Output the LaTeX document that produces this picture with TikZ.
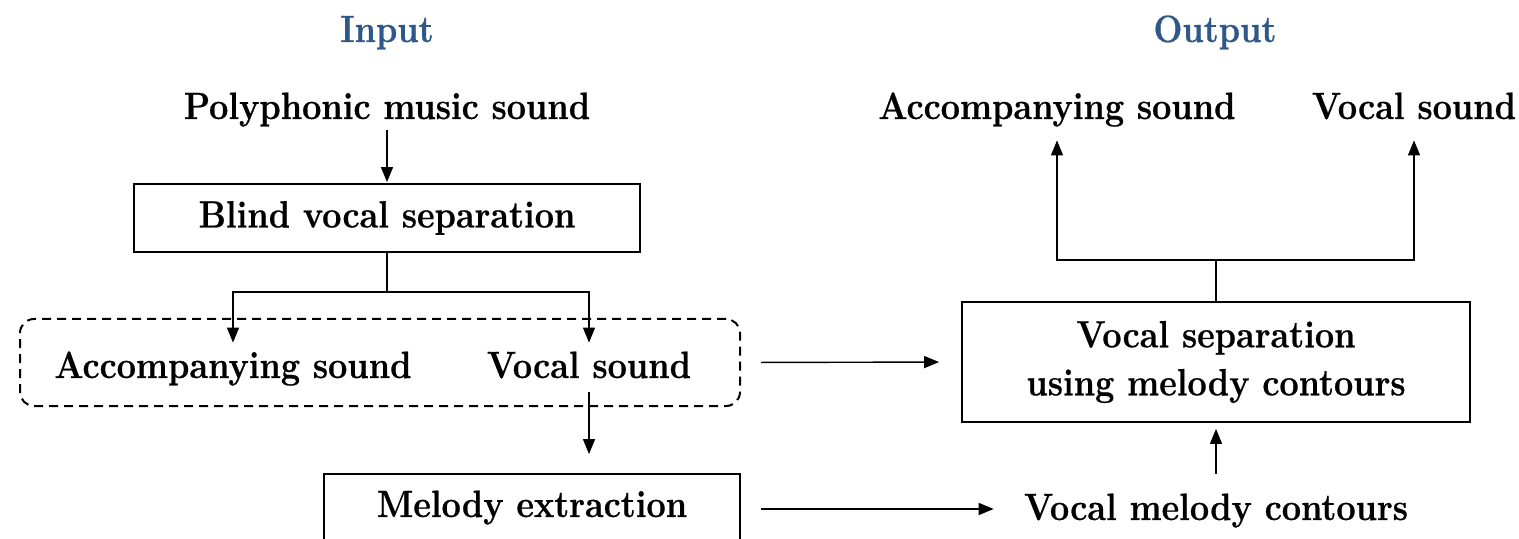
\documentclass[tikz,border=0pt]{standalone}
\usepackage{fontspec}
\setmainfont{Latin Modern Roman}[FakeStretch=0.9,BoldFeatures={FakeBold=0.6}]
\usetikzlibrary{arrows.meta}
\definecolor{hdblue}{RGB}{45,88,135}
\begin{document}
\begin{tikzpicture}[x=0.5pt,y=-0.5pt,
  every node/.style={font=\fontsize{19}{24}\selectfont\bfseries},
  txt/.style={anchor=base,inner sep=0pt,text height=12pt,text depth=4pt},
  hd/.style={txt,text=hdblue},
  boxnode/.style={draw,line width=0.9pt,inner sep=0pt,align=center},
  conn/.style={line width=0.7pt},
  arr/.style={conn,-{Triangle[length=7.5pt,width=6pt]}}]
\clip (0,0) rectangle (1519,539);
% headings
\node[hd] (inlbl) at (387,42) {Input};
\node[hd] (outlbl) at (1215,42) {Output};
% left column
\node[txt] (poly) at (387,119) {Polyphonic music sound};
\node[boxnode,minimum width=253pt,minimum height=34pt] (blind) at (387,218) {Blind vocal separation};
\node[txt] (accL) at (233,378) {Accompanying sound};
\node[txt] (vocL) at (589,378) {Vocal sound};
\node[draw,dash pattern=on 4.5pt off 3pt,line width=1pt,rounded corners=7pt,inner sep=0pt,
      minimum width=360pt,minimum height=43.5pt] (grp) at (380,362.5) {};
\node[boxnode,minimum width=208pt,minimum height=50pt] (melbox) at (532,524) {};
\node[txt] (mel) at (532,517) {Melody extraction};
% right column
\node[boxnode,minimum width=254pt,minimum height=60pt] (vsep) at (1216,362)
  {Vocal separation\\using melody contours};
\node[txt] (vmc) at (1216,520) {Vocal melody contours};
\node[txt] (accR) at (1057,119) {Accompanying sound};
\node[txt] (vocR) at (1414,119) {Vocal sound};
% connectors
\draw[arr,shorten <=1.5pt,shorten >=0.5pt] (poly.south) -- (blind.north);
\coordinate (splitL) at (387,292);
\draw[conn] (blind.south) -- (splitL);
\draw[arr,shorten >=5.5pt] (splitL) -| (accL.north);
\draw[arr,shorten >=5.5pt] (splitL) -| (vocL.north);
\draw[arr,shorten <=3pt,shorten >=9.5pt] (vocL.south) -- (vocL.south |- melbox.north);
\draw[arr,shorten <=10pt,shorten >=11pt] (grp.east) -- (vsep.west);
\draw[arr,shorten <=10pt,shorten >=15pt] (melbox.east |- mel) -- (vmc.west |- mel);
\draw[arr,shorten <=11pt,shorten >=3pt] (vmc.north) -- (vsep.south);
\coordinate (splitR) at (1216,260);
\draw[conn] (vsep.north) -- (splitR);
\draw[arr,shorten >=6.5pt] (splitR) -| (accR.south);
\draw[arr,shorten >=6.5pt] (splitR) -| (vocR.south);
\end{tikzpicture}
\end{document}
